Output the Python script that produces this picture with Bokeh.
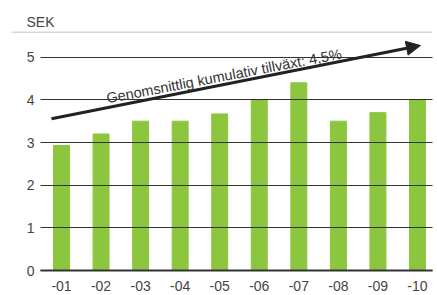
from bokeh.plotting import figure
from bokeh.models import Range1d, FixedTicker, Arrow, NormalHead, Label, BoxAnnotation
from bokeh.embed import file_html
from bokeh.resources import INLINE

years = ["-01", "-02", "-03", "-04", "-05", "-06", "-07", "-08", "-09", "-10"]
dividend = [2.93, 3.20, 3.50, 3.50, 3.67, 4.00, 4.40, 3.50, 3.70, 4.00]
y_ticks = [0, 1, 2, 3, 4, 5]
unit_label = "SEK"
trend_label = "Genomsnittlig kumulativ tillväxt: 4,5%"
trend_start = (0.747, 3.556)
trend_end = (10.075, 5.274)

FONT = "Liberation Sans"
TXT = "#444444"
xs = list(range(1, len(years) + 1))

# frame covers the whole canvas; both axes sit at fixed positions inside it
X_LEFT, X_AXIS, X_END, X_RIGHT = -0.542, 0.469, 10.379, 10.506
Y_BOTTOM, Y_TOP = -0.586, 6.329
RULE_X, RULE_Y = -0.264, 5.586
UNIT_X, UNIT_Y = 0.115, 5.82

p = figure(width=437, height=295, output_backend="svg", toolbar_location=None,
           x_range=Range1d(X_LEFT, X_RIGHT), y_range=Range1d(Y_BOTTOM, Y_TOP),
           min_border=0)
p.outline_line_color = None
p.background_fill_color = "white"
p.border_fill_color = "white"

p.vbar(x=xs, top=dividend, bottom=0, width=0.404, color="#8cc63f")

# x axis at y = 0
p.xaxis.fixed_location = 0
p.xaxis.ticker = FixedTicker(ticks=xs)
p.xaxis.major_label_overrides = {x: lab for x, lab in zip(xs, years)}
p.xaxis.bounds = (X_AXIS, X_END)
p.xaxis.axis_line_color = "#333333"
p.xaxis.axis_line_width = 2
p.xaxis.major_tick_line_color = None
p.xaxis.major_tick_out = 0
p.xaxis.major_tick_in = 0
p.xaxis.minor_tick_line_color = None
p.xaxis.minor_tick_out = 0
p.xaxis.major_label_standoff = 10
p.xaxis.major_label_text_font = FONT
p.xaxis.major_label_text_font_size = "14px"
p.xaxis.major_label_text_color = TXT

# y axis at a fixed position; its inward ticks act as the grid lines
p.yaxis.fixed_location = X_AXIS
p.yaxis.ticker = FixedTicker(ticks=y_ticks)
p.yaxis.bounds = (0, 5)
p.yaxis.axis_line_color = None
p.yaxis.major_tick_line_color = "#333333"
p.yaxis.major_tick_line_width = 1
p.yaxis.major_tick_out = 0
p.yaxis.major_tick_in = 392
p.yaxis.minor_tick_line_color = None
p.yaxis.minor_tick_out = 0
p.yaxis.major_label_standoff = 6
p.yaxis.major_label_text_font = FONT
p.yaxis.major_label_text_font_size = "14px"
p.yaxis.major_label_text_color = TXT

p.xgrid.grid_line_color = None
p.ygrid.grid_line_color = None

# top rule spanning the whole chart width
p.add_layout(BoxAnnotation(left=RULE_X, right=X_END, top=RULE_Y, bottom=RULE_Y,
                           fill_color=None, line_color="#777777", line_width=1.5))

p.add_layout(Label(x=UNIT_X, y=UNIT_Y, text=unit_label, text_font=FONT,
                   text_font_size="14px", text_color=TXT, text_baseline="middle"))

p.add_layout(Arrow(x_start=trend_start[0], y_start=trend_start[1],
                   x_end=trend_end[0], y_end=trend_end[1],
                   line_color="#222222", line_width=3,
                   end=NormalHead(size=14, fill_color="#222222", line_color="#222222")))

p.add_layout(Label(x=2.14, y=4.035, text=trend_label, angle=10.8, angle_units="deg",
                   text_font=FONT, text_font_size="14.5px", text_color="#333333",
                   text_baseline="alphabetic"))

open("out.html", "w").write(file_html(p, INLINE))
